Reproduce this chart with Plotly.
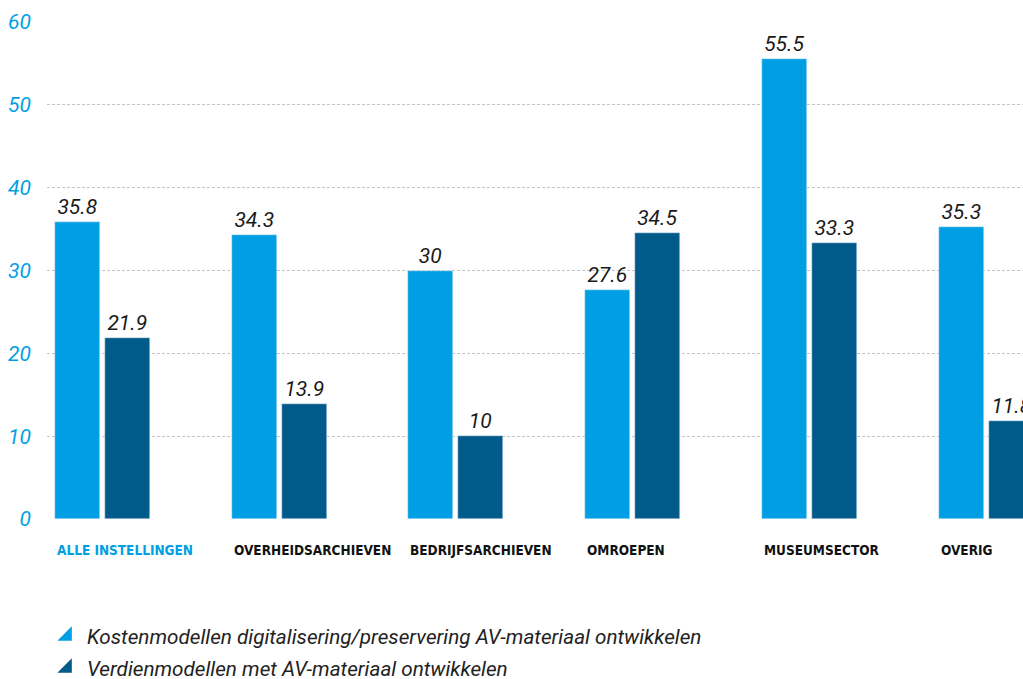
import plotly.graph_objects as go

categories = ["ALLE INSTELLINGEN", "OVERHEIDSARCHIEVEN", "BEDRIJFSARCHIEVEN",
              "OMROEPEN", "MUSEUMSECTOR", "OVERIG"]
kosten = [35.8, 34.3, 30, 27.6, 55.5, 35.3]
verdien = [21.9, 13.9, 10, 34.5, 33.3, 11.8]
series_names = ["Kostenmodellen digitalisering/preservering AV-materiaal ontwikkelen",
                "Verdienmodellen met AV-materiaal ontwikkelen"]
y_ticks = [0, 10, 20, 30, 40, 50, 60]

LIGHT = "#009FE3"
DARK = "#005B8A"
step = 176.7
bw = 45 / step
x = list(range(len(categories)))

fig = go.Figure()
txtfont = dict(family="Roboto", size=21, color="#1a1a1a", style="italic")
for vals, col, off in [(kosten, LIGHT, -47.5), (verdien, DARK, 2.5)]:
    fig.add_trace(go.Bar(x=x, y=vals, width=bw, offset=off / step, marker_color=col,
                         text=[f"{v:g}" for v in vals], textposition="outside",
                         constraintext="none", textfont=txtfont, cliponaxis=False,
                         showlegend=False))

for name, col, grp in [(series_names[0], LIGHT, "a"), (series_names[1], DARK, "b")]:
    fig.add_trace(go.Scatter(x=[None], y=[None], mode="markers", name=name, legendgroup=grp,
                             marker=dict(symbol="triangle-se", size=22, color=col)))

for i, c in enumerate(categories):
    fig.add_annotation(x=i - 47.5 / step, y=-0.062, xref="x", yref="paper",
                       text=f"<b>{c}</b>", showarrow=False, xanchor="left", yanchor="middle",
                       font=dict(family="DejaVu Sans Condensed, Liberation Sans Narrow, Roboto", size=13.5,
                                 color=LIGHT if i == 0 else "#111111"))

fig.update_layout(
    width=1023, height=679,
    margin=dict(l=47, r=0, t=22, b=160),
    plot_bgcolor="white", paper_bgcolor="white",
    bargap=0,
    xaxis=dict(range=[-(102.5 - 47) / step, -(102.5 - 47) / step + 976 / step],
               showticklabels=False, showgrid=False, zeroline=False, showline=False,
               fixedrange=True, automargin=False),
    yaxis=dict(range=[0, 60], tickvals=y_ticks, showgrid=True, gridcolor="#c4c4c4",
               griddash="3px,2px", gridwidth=1, zeroline=False, showline=False,
               tickfont=dict(family="Roboto", size=21, color=LIGHT, style="italic"),
               ticks="", ticklabelstandoff=15, automargin=False),
    legend=dict(x=0.0, xanchor="left", y=1 - 616 / 679, yanchor="top", yref="container",
                orientation="v", tracegroupgap=2, bgcolor="rgba(0,0,0,0)",
                font=dict(family="Roboto", size=20.7, color="#222222", style="italic")),
)

fig.write_html("out.html", config={"displayModeBar": False},
               post_script="document.body.style.margin='0';document.body.style.overflow='hidden';")
